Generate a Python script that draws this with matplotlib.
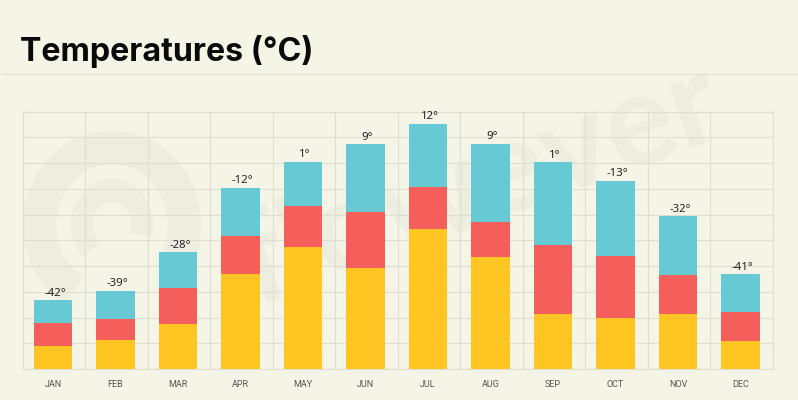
import matplotlib
matplotlib.use('Agg')
import numpy as np
import matplotlib.pyplot as plt
from matplotlib.patches import Arc

months = ['JAN', 'FEB', 'MAR', 'APR', 'MAY', 'JUN', 'JUL', 'AUG', 'SEP', 'OCT', 'NOV', 'DEC']
yellow = [8.9, 11.3, 17.5, 36.7, 47.4, 39.2, 54.2, 43.5, 21.2, 19.8, 21.2, 10.7]
red = [8.9, 8.3, 14.0, 15.0, 15.9, 21.7, 16.5, 13.4, 27.0, 24.1, 15.3, 11.5]
blue = [8.9, 10.7, 13.8, 18.6, 17.1, 26.4, 24.5, 30.5, 32.0, 29.1, 22.9, 14.6]
labels = ['-42°', '-39°', '-28°', '-12°', '1°', '9°', '12°', '9°', '1°', '-13°', '-32°', '-41°']

bg = '#f4f5e6'
mark = '#eeeee0'
W, H = 798, 400

fig = plt.figure(figsize=(W/100, H/100), dpi=100, facecolor=bg)

# full figure axes in pixels, only for the faint watermark behind the chart
wm = fig.add_axes([0, 0, 1, 1], facecolor='none', zorder=0)
wm.set_xlim(0, W)
wm.set_ylim(H, 0)
wm.axis('off')
wm.add_patch(Arc((112, 225), 145, 155, theta1=120, theta2=400, color=mark, linewidth=24))
wm.add_patch(Arc((112, 225), 60, 70, theta1=130, theta2=380, color=mark, linewidth=16))
wm.text(480, 185, 'flowever', fontsize=92, fontweight='bold', color=mark, rotation=20,
        ha='center', va='center', family='Lato')

# axes placed in pixels: x 22.5-772.5, y 111.5-369
ax = fig.add_axes([22.5/W, 1-369/H, 750/W, 257.5/H], facecolor='none', zorder=1)

x = np.arange(12) - 0.012
y = np.array(yellow)
r = np.array(red)
b = np.array(blue)
ax.bar(x, y, width=0.61, color='#ffc523', zorder=3)
ax.bar(x, r, width=0.61, bottom=y, color='#f45f5c', zorder=3)
ax.bar(x, b, width=0.61, bottom=y+r, color='#66c9d4', zorder=3)

tops = y + r + b
for i in range(12):
    ax.text(x[i]+0.03, tops[i]+0.6, labels[i], ha='center', va='bottom', fontsize=8.2,
            color='#222222', family='Noto Sans', zorder=4)

ax.set_xlim(-0.5, 11.5)
ax.set_ylim(0, 100)
ax.set_xticks(np.arange(-0.5, 12, 1))
ax.set_yticks(np.arange(0, 101, 10))
ax.set_xticklabels([])
ax.set_yticklabels([])
ax.tick_params(length=0)
ax.grid(True, color='#deded2', linewidth=0.8, zorder=1)
ax.set_axisbelow(True)
for s in ax.spines.values():
    s.set_color('#deded2')
    s.set_linewidth(0.8)

for i in range(12):
    ax.annotate(months[i], (x[i], 0), xytext=(0, -11), textcoords='offset points',
                ha='center', va='center', fontsize=6.5, color='#555555', family='Roboto')

fig.text(20/W, 1-51/H, 'Temperatures (°C)', fontsize=23.2, fontweight='bold', color='#0a0a0a',
         family='Inter', ha='left', va='center')
fig.add_artist(plt.Line2D([2/W, 1], [1-73.5/H, 1-73.5/H], color='#e0e0d4', linewidth=0.9))

fig.savefig('out.png', dpi=100, facecolor=bg)
